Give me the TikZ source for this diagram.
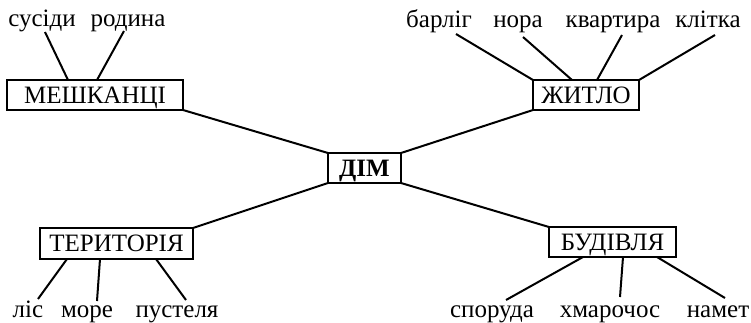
\documentclass[tikz,border=0pt]{standalone}
\usepackage{fontspec}
\setmainfont{Liberation Serif}
\begin{document}
\begin{tikzpicture}[x=1pt,y=-1pt,
        every node/.style={font=\fontsize{25}{29}\selectfont},
        topic/.style={draw, line width=2pt, minimum height=30pt, inner sep=0pt, outer sep=0pt, text height=16.5pt, text depth=0pt},
        word/.style={anchor=base, inner sep=0pt},
        link/.style={line width=2pt}]
        \useasboundingbox (0,0) rectangle (751,322);

        \node[topic, minimum width=73pt, font=\fontsize{25}{29}\selectfont\bfseries] (dim) at (364.5,168) {ДІМ};

        \node[topic, minimum width=176pt] (meshkantsi) at (95,95) {МЕШКАНЦІ};
        \node[topic, minimum width=106pt] (zhytlo) at (586,95) {ЖИТЛО};
        \node[topic, minimum width=153pt, minimum height=31pt] (terytoriya) at (116.5,243.5) {ТЕРИТОРІЯ};
        \node[topic, minimum width=127pt] (budivlya) at (612.5,242) {БУДІВЛЯ};

        \draw[link] (meshkantsi.south east) -- (dim.north west);
        \draw[link] (zhytlo.south west) -- (dim.north east);
        \draw[link] (terytoriya.north east) -- (dim.south west);
        \draw[link] (budivlya.north west) -- (dim.south east);

        % top words
        \node[word] (susidy) at (42,26) {сусіди};
        \node[word] (rodyna) at (128,26) {родина};
        \node[word] (barlig) at (439,27) {барліг};
        \node[word] (nora) at (518,27) {нора};
        \node[word] (kvartyra) at (613,27) {квартира};
        \node[word] (klitka) at (708,27) {клітка};

        % bottom words
        \node[word] (lis) at (28,317) {ліс};
        \node[word] (more) at (87,317) {море};
        \node[word] (pustelya) at (177,317) {пустеля};
        \node[word] (sporuda) at (492,317) {споруда};
        \node[word] (khmarochos) at (610,317) {хмарочос};
        \node[word] (namet) at (718,317) {намет};

        \draw[link] ([xshift=3pt,yshift=-6pt]susidy.base) -- ([xshift=-27pt]meshkantsi.north);
        \draw[link] ([xshift=-4pt,yshift=-5pt]rodyna.base) -- ([xshift=2pt]meshkantsi.north);

        \draw[link] ([xshift=17pt,yshift=-7pt]barlig.base) -- (zhytlo.north west);
        \draw[link] ([xshift=5pt,yshift=-10pt]nora.base) -- ([xshift=-14pt]zhytlo.north);
        \draw[link] ([xshift=9pt,yshift=-8pt]kvartyra.base) -- ([xshift=11pt]zhytlo.north);
        \draw[link] ([xshift=7pt,yshift=-8pt]klitka.base) -- (zhytlo.north east);

        \draw[link] ([xshift=10pt,yshift=18pt]lis.base) -- ([xshift=-49.5pt]terytoriya.south);
        \draw[link] ([xshift=10pt,yshift=16pt]more.base) -- ([xshift=-16.5pt]terytoriya.south);
        \draw[link] ([xshift=9pt,yshift=17pt]pustelya.base) -- ([xshift=39.5pt]terytoriya.south);

        \draw[link] ([xshift=14pt,yshift=17pt]sporuda.base) -- ([xshift=-29.5pt]budivlya.south);
        \draw[link] ([xshift=10pt,yshift=20pt]khmarochos.base) -- ([xshift=10.5pt]budivlya.south);
        \draw[link] ([xshift=7pt,yshift=19pt]namet.base) -- ([xshift=44.5pt]budivlya.south);
    \end{tikzpicture}
\end{document}
